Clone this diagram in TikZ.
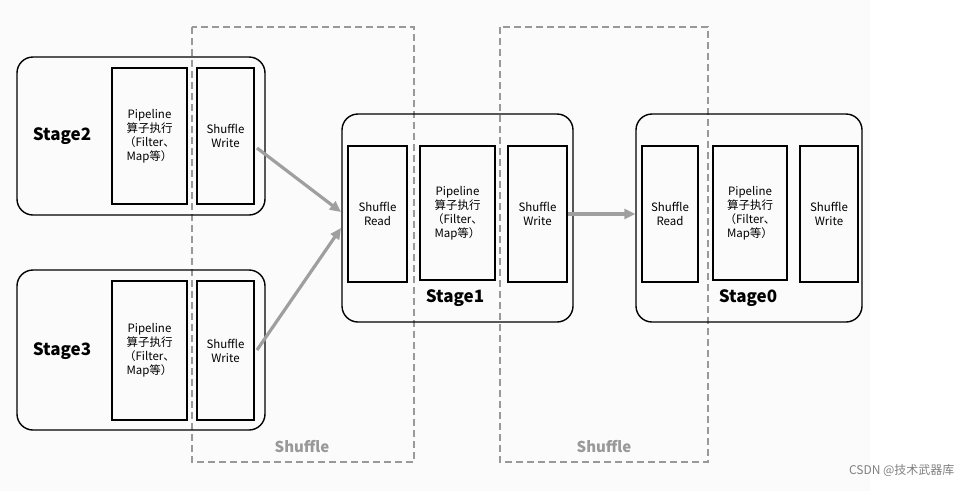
\documentclass[tikz,border=0pt]{standalone}
\usepackage{fontspec}
\setmainfont{Noto Sans CJK SC}
\usetikzlibrary{arrows.meta}
\begin{document}
\begin{tikzpicture}[x=1pt,y=-1pt,
  stage/.style={draw,line width=1.4pt,rounded corners=16pt,inner sep=0pt},
  cell/.style={draw,line width=1.1pt,align=center,font=\fontsize{11.5}{14}\selectfont,inner sep=0pt},
  shdash/.style={draw=gray!80,line width=2pt,dash pattern=on 7pt off 4pt},
  arr/.style={-{Triangle[length=11pt,width=10pt]},line width=3.2pt,draw=gray!75,fill=gray!75},
  slabel/.style={font=\bfseries\fontsize{17}{20}\selectfont},
  shlabel/.style={font=\bfseries\fontsize{15}{18}\selectfont,text=gray!80}]
\useasboundingbox (0,0) rectangle (972,491);
\fill[gray!3] (0,0) rectangle (870,491);
% dashed shuffle regions
\draw[shdash] (192,27) rectangle (414,462);
\draw[shdash] (500,27) rectangle (708,462);
\node[shlabel] (sh1) at (302,446) {Shuffle};
\node[shlabel] (sh2) at (604,446) {Shuffle};
% Stage boxes
\node[stage,minimum width=248pt,minimum height=158pt] (b2) at (141,136) {};
\node[stage,minimum width=248pt,minimum height=160pt] (b3) at (141,350) {};
\node[stage,minimum width=231pt,minimum height=208pt] (b1) at (457.5,218) {};
\node[stage,minimum width=226pt,minimum height=208pt] (b0) at (749,218) {};
% Stage2
\node[slabel] (s2) at (62,136) {Stage2};
\node[cell,minimum width=75pt,minimum height=136pt] (p2) at (149.5,136) {Pipeline\\算子执行\\（Filter、\\Map等）};
\node[cell,minimum width=57pt,minimum height=136pt] (w2) at (225.5,136) {Shuffle\\Write};
% Stage3
\node[slabel] (s3) at (62,351) {Stage3};
\node[cell,minimum width=75pt,minimum height=139pt] (p3) at (149.5,350.5) {Pipeline\\算子执行\\（Filter、\\Map等）};
\node[cell,minimum width=57pt,minimum height=139pt] (w3) at (225.5,350.5) {Shuffle\\Write};
% Stage1
\node[cell,minimum width=59pt,minimum height=136pt] (r1) at (377.5,214) {Shuffle\\Read};
\node[cell,minimum width=75pt,minimum height=134pt] (p1) at (457.5,213) {Pipeline\\算子执行\\（Filter、\\Map等）};
\node[cell,minimum width=59pt,minimum height=136pt] (w1) at (537.5,214) {Shuffle\\Write};
\node[slabel] (s1) at (455,298) {Stage1};
% Stage0
\node[cell,minimum width=56pt,minimum height=136pt] (r0) at (670,214) {Shuffle\\Read};
\node[cell,minimum width=74pt,minimum height=134pt] (p0) at (750,213) {Pipeline\\算子执行\\（Filter、\\Map等）};
\node[cell,minimum width=58pt,minimum height=136pt] (w0) at (829,214) {Shuffle\\Write};
\node[slabel] (s0) at (748,298) {Stage0};
% arrows
\coordinate (a2) at (257,148);
\coordinate (a3) at (257,350);
\coordinate (t2) at (341,212);
\coordinate (t3) at (341,228);
\draw[arr] (a2) -- (t2);
\draw[arr] (a3) -- (t3);
\draw[arr] (w1.east) -- (b0.west |- w1.east);
% watermark
\node[text=gray,font=\fontsize{12}{14}\selectfont,anchor=east] (wm) at (958,470) {CSDN @技术武器库};
\end{tikzpicture}
\end{document}
